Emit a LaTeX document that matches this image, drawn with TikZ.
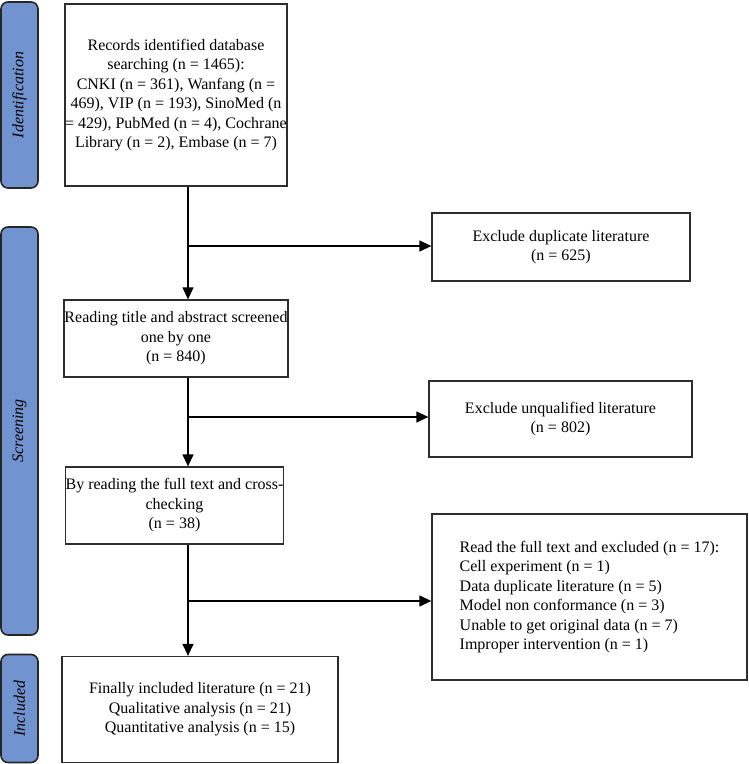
\documentclass[tikz,border=0pt]{standalone}
\usepackage{fontspec}
\setmainfont{Liberation Serif}
\usetikzlibrary{arrows.meta}
\definecolor{sideblue}{RGB}{113,148,208}
\definecolor{edge}{RGB}{45,45,45}
\tikzset{
  box/.style={draw=edge, line width=1.3pt, fill=white, inner sep=0pt, align=center,
    font=\fontsize{16}{19.5}\selectfont},
  sidebox/.style={draw=black!85, line width=1.6pt, fill=sideblue, rounded corners=7pt,
    inner sep=0pt, rotate=90, font=\fontsize{16}{20}\selectfont\itshape},
  conn/.style={line width=1.3pt, draw=black},
  arr/.style={conn, -{Triangle[length=12pt,width=11pt]}}
}
\begin{document}
\begin{tikzpicture}[x=1pt,y=-1pt]
\useasboundingbox (0,0) rectangle (749,764);
% phase labels
\node[sidebox, minimum width=186pt, minimum height=37pt] (sid) at (19.5,95) {Identification};
\node[sidebox, minimum width=408pt, minimum height=37pt] (ssc) at (19.5,431) {Screening};
\node[sidebox, minimum width=108pt, minimum height=37pt] (sin) at (19.5,708.5) {Included};
% main boxes
\node[box, minimum width=222pt, minimum height=182pt] (b1) at (176,95)
  {Records identified database\\searching (n = 1465):\\CNKI (n = 361), Wanfang (n =\\469), VIP (n = 193), SinoMed (n\\= 429), PubMed (n = 4), Cochrane\\Library (n = 2), Embase (n = 7)};
\node[box, minimum width=224pt, minimum height=77pt] (b2) at (176,338.5)
  {Reading title and abstract screened\\one by one\\(n = 840)};
\node[box, minimum width=217pt, minimum height=77pt] (b3) at (174.5,505.5)
  {By reading the full text and cross-\\checking\\(n = 38)};
\node[box, minimum width=276pt, minimum height=106pt] (b4) at (200,709.5)
  {Finally included literature (n = 21)\\Qualitative analysis (n = 21)\\Quantitative analysis (n = 15)};
% exclusion boxes
\node[box, minimum width=258pt, minimum height=68pt] (r1) at (561,247)
  {Exclude duplicate literature\\(n = 625)};
\node[box, minimum width=263pt, minimum height=76pt] (r2) at (560.5,419)
  {Exclude unqualified literature\\(n = 802)};
\node[box, minimum width=315pt, minimum height=166pt, align=left] (r3) at (589.5,597)
  {Read the full text and excluded (n = 17):\\Cell experiment (n = 1)\\Data duplicate literature (n = 5)\\Model non conformance (n = 3)\\Unable to get original data (n = 7)\\Improper intervention (n = 1)};
% connector helpers
\coordinate (vx) at (188,0);
\coordinate (j1) at (188,246);
\coordinate (j2) at (188,417);
\coordinate (j3) at (188,601);
% connectors
\draw[arr] (b1.south -| vx) -- (b2.north -| vx);
\draw[arr] (j1) -- (r1.west |- j1);
\draw[arr] (b2.south -| vx) -- (b3.north -| vx);
\draw[arr] (j2) -- (r2.west |- j2);
\draw[arr] (b3.south -| vx) -- (b4.north -| vx);
\draw[arr] (j3) -- (r3.west |- j3);
\end{tikzpicture}
\end{document}
